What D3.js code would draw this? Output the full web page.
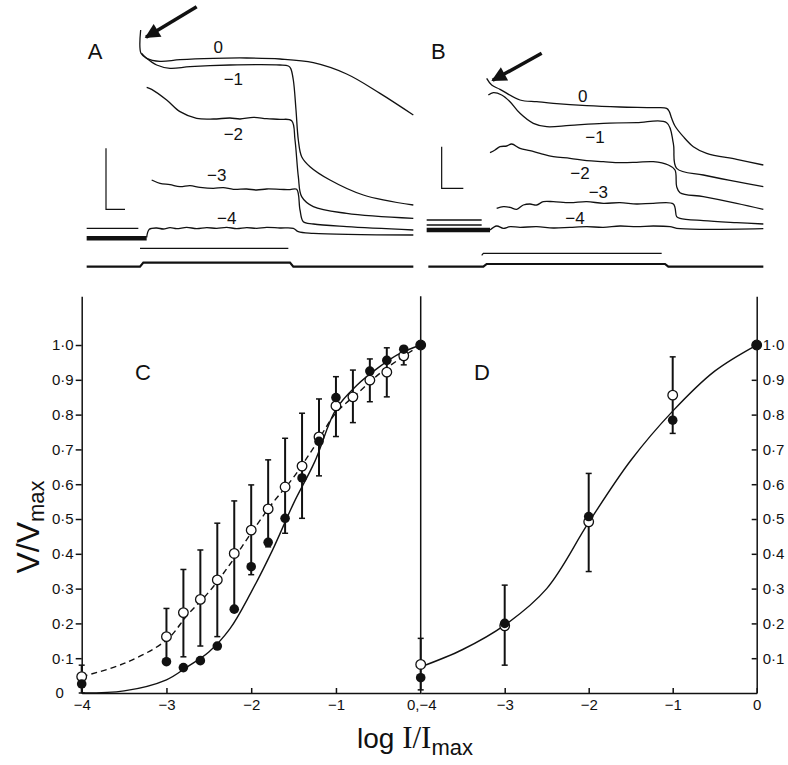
<!DOCTYPE html>
<html>
<head>
<meta charset="utf-8">
<script src="https://cdn.jsdelivr.net/npm/d3@7"></script>
<style>
  body { margin: 0; background: #fff; }
  text { font-family: "Liberation Sans", Arial, sans-serif; fill: #111; }
</style>
</head>
<body>
<script>

// ---- top records: [time, voltage] in arbitrary units ----
var traceA0 = [[18.2,75],[18.3,68],[20,66.5],[24,65.6],[30,66.1],[40,66.5],[50,66.6],[60,66.3],[70,65.2],[80,61.8],[90,56],[100,49.5]];
var traceA1 = [[18.5,68],[20,66.5],[23,64.5],[27,63.5],[33,64],[45,64.5],[60,64.5],[62.5,64.2],[63.2,63.5],[64,60],[64.8,51],[65.5,42],[66.5,37],[69,34],[75,30],[85,25.5],[100,22.5]];
var traceA2 = [[20,57.8],[21.5,57.2],[26,54],[30,50.5],[35,48.5],[40,48.3],[45,48.6],[48,48.3],[52,48.8],[56,48.4],[60,48.2],[63.5,47.8],[64.5,42],[65.5,31],[66.5,25],[70,22],[80,20],[100,18.5]];
var traceA3 = [[21.5,30],[24,29],[27,28.6],[30,28],[33,28.3],[36,27.8],[40,27.5],[43,27.7],[46,27.2],[50,27.3],[53,27],[56,27.3],[60,27.2],[63,27.1],[65,27.2],[66,21],[67,17.5],[70,16.8],[80,16],[100,15]];
var traceA4 = [[20,12.8],[20.8,15.2],[23,15.6],[25,15.3],[27,15.7],[29,15.4],[32,15.8],[35,15.4],[38,15.7],[41,15.5],[44,15.8],[47,15.4],[50,15.7],[53,15.5],[56,15.8],[60,15.6],[64,15.5],[65.5,14.5],[70,14],[100,13.5]];
var preA = [[[2,15.5],[17.5,15.5]]];
var preBandA = [[2,12.5],[20,12.5]];
var stimA = [[18,9.5],[62.5,9.5]];
var baseA = [[2,4],[18,4],[19,5.2],[63,5.2],[64,4],[100,4]];
var scaleBarA = [[7.8,39.5],[7.8,21.2],[13.5,21.2]];
var arrowA = [[35,82],[19.8,72.8]];
var labelsA = [["0",41.5,70],["\u22121",46,60.3],["\u22122",46,43.8],["\u22123",41,31.5],["\u22124",44,18.5]];

var traceB0 = [[20,60.5],[21.5,58.5],[24,57.2],[30,54],[35,53.5],[40,53],[50,52.3],[60,51.9],[70,51.7],[74,51.5],[74.8,50.5],[75.5,48.5],[76.5,46.2],[79,43],[82,40],[86,38],[95,36.2],[103,34.5]];
var traceB1 = [[20.5,55.5],[22,56.2],[24.5,55.5],[27,53.5],[30,50],[34,47],[38,46],[45,46.4],[55,47],[65,47.2],[74,47.2],[76,41],[77,33.5],[85,31.5],[95,29.5],[103,28]];
var traceB2 = [[21,38.2],[22.5,39],[24,40],[26,40.2],[27.5,40.8],[30,39.5],[33,38.8],[36,38],[40,37],[45,36.5],[50,35.8],[55,35.5],[60,35.2],[65,35.3],[70,35.5],[74.5,34.5],[76.5,33],[77,28],[78,26.2],[85,25],[95,23],[103,21.2]];
var traceB3 = [[23,21.5],[25,22],[27,21.8],[29,21.2],[31,22.5],[33,22.8],[35,22.5],[37,23.5],[40,23.5],[45,23.2],[50,23.5],[55,23],[60,23.2],[65,22.8],[70,23],[76,22.8],[77,19],[78,18.5],[85,17.8],[95,17.2],[103,16.8]];
var traceB4 = [[21,15],[23,16.2],[25,15.5],[27,16],[30,15.8],[35,16],[40,15.6],[45,15.8],[50,16],[55,15.8],[60,16.2],[65,16],[70,16.2],[75,16],[77,15.5],[85,15.2],[103,15.4]];
var preB = [[[2,18],[18.5,18]],[[2,16.5],[18.5,16.5]]];
var preBandB = [[2,15],[21,15]];
var stimB = [[18.5,7.4],[19,8],[72.5,8]];
var baseB = [[2.5,4],[19,4],[20,4.8],[73.5,4.8],[74.5,4],[103,4]];
var scaleBarB = [[6.5,40],[6.5,27.5],[13,27.5]];
var arrowB = [[36.5,68],[21.8,59.9]];
var labelsB = [["0",48.8,55.2],["\u22121",52.5,43],["\u22122",48,32.2],["\u22123",53.5,26.5],["\u22124",46.5,18.5]];

// ---- C: V/Vmax against log I/Imax ----
var cX      = [-4,-3,-2.8,-2.6,-2.4,-2.2,-2.0,-1.8,-1.6,-1.4,-1.2,-1.0,-0.8,-0.6,-0.4,-0.2,0];
var cOpen   = [0.047,0.162,0.231,0.269,0.325,0.401,0.468,0.529,0.592,0.652,0.736,0.825,0.851,0.899,0.922,0.969,1.0];
var cFilled = [0.026,0.09,0.073,0.093,0.135,0.241,0.363,0.433,0.502,0.618,0.723,0.849,null,0.925,0.956,0.988,1.0];
var cErrLo  = [0.0,0.09,0.104,0.135,0.162,0.239,0.34,0.42,0.459,0.502,0.624,0.737,0.777,0.837,0.851,0.943,null];
var cErrHi  = [0.08,0.243,0.355,0.411,0.488,0.552,0.598,0.670,0.732,0.804,0.845,0.909,0.928,0.960,0.992,0.985,null];
var fitX    = [-4,-3.5,-3,-2.75,-2.5,-2.25,-2,-1.75,-1.5,-1.25,-1,-0.75,-0.5,-0.25,0];
var cFitFilled = [0.0,0.006,0.038,0.076,0.118,0.185,0.29,0.41,0.545,0.665,0.815,0.885,0.935,0.975,1.0];
var cFitOpen   = [0.047,0.085,0.152,0.225,0.29,0.37,0.46,0.545,0.62,0.71,0.805,0.86,0.915,0.96,1.0];

// ---- D ----
var dX      = [-4,-3,-2,-1,0];
var dOpen   = [0.082,0.193,0.492,0.856,1.0];
var dFilled = [0.044,0.2,0.507,0.784,1.0];
var dErrLo  = [0.009,0.08,0.349,0.746,null];
var dErrHi  = [0.157,0.31,0.631,0.966,null];
var dFitX   = [-4,-3.5,-3,-2.5,-2,-1.5,-1,-0.5,0];
var dFit    = [0.075,0.125,0.195,0.30,0.49,0.668,0.81,0.925,1.0];

var yTicks = [0.1,0.2,0.3,0.4,0.5,0.6,0.7,0.8,0.9,1.0];
var xTicksC = [-4,-3,-2,-1];
var xTicksD = [-3,-2,-1,0];

var svg = d3.select("body").append("svg").attr("width", 788).attr("height", 765);

svg.append("defs").append("marker")
  .attr("id", "head")
  .attr("viewBox", "0 0 10 10")
  .attr("refX", 9).attr("refY", 5)
  .attr("markerUnits", "userSpaceOnUse")
  .attr("markerWidth", 22).attr("markerHeight", 15)
  .attr("orient", "auto")
  .append("path").attr("d", "M0,0 L10,5 L0,10 z").style("fill", "#111");

var yTop = d3.scaleLinear().domain([0, 84]).range([280, 0]);
var xA = d3.scaleLinear().domain([0, 102]).range([80, 420]);
var xB = d3.scaleLinear().domain([0, 110.4]).range([420, 788]);

function recordPanel(x, traces, pres, band, stim, base, bar, arrow, labels, name) {
  var g = svg.append("g");
  var curved = d3.line().x(function(d){ return x(d[0]); }).y(function(d){ return yTop(d[1]); })
    .curve(d3.curveCatmullRom.alpha(0.5));
  var straight = d3.line().x(function(d){ return x(d[0]); }).y(function(d){ return yTop(d[1]); });

  traces.forEach(function(t){
    g.append("path").attr("d", curved(t))
      .style("fill", "none").style("stroke", "#111").style("stroke-width", 1.3);
  });
  pres.forEach(function(p){
    g.append("path").attr("d", straight(p))
      .style("fill", "none").style("stroke", "#111").style("stroke-width", 1.3);
  });
  g.append("path").attr("d", straight(band))
    .style("fill", "none").style("stroke", "#111").style("stroke-width", 4.5);
  g.append("path").attr("d", straight(stim))
    .style("fill", "none").style("stroke", "#111").style("stroke-width", 1.2);
  g.append("path").attr("d", straight(base))
    .style("fill", "none").style("stroke", "#111").style("stroke-width", 2.2);
  g.append("path").attr("d", straight(bar))
    .style("fill", "none").style("stroke", "#111").style("stroke-width", 1.2);
  g.append("path").attr("d", straight(arrow))
    .attr("marker-end", "url(#head)")
    .style("fill", "none").style("stroke", "#111").style("stroke-width", 3.5);

  g.selectAll("text.lab").data(labels).enter().append("text")
    .attr("class", "lab")
    .attr("x", function(d){ return x(d[1]); })
    .attr("y", function(d){ return yTop(d[2]); })
    .attr("dy", "0.35em")
    .attr("text-anchor", "middle")
    .style("font-size", "17px")
    .text(function(d){ return d[0]; });
  g.append("text").attr("x", x(name[1])).attr("y", yTop(name[2])).attr("dy", "0.35em")
    .attr("text-anchor", "middle").style("font-size", "22px").text(name[0]);
}

recordPanel(xA, [traceA0, traceA1, traceA2, traceA3, traceA4], preA, preBandA, stimA, baseA,
  scaleBarA, arrowA, labelsA, ["A", 4.5, 68.5]);
recordPanel(xB, [traceB0, traceB1, traceB2, traceB3, traceB4], preB, preBandB, stimB, baseB,
  scaleBarB, arrowB, labelsB, ["B", 5.5, 68.5]);

// ---- bottom graphs ----
var y = d3.scaleLinear().domain([0, 1.14]).range([693, 296.3]);
var xC = d3.scaleLinear().domain([-4, 0]).range([81.7, 420.7]);
var xD = d3.scaleLinear().domain([-4, 0]).range([420.7, 756.7]);
var dot = function(d){ return d.toFixed(1).replace(".", "\u00B7"); };
var whole = d3.format("d");

var yAxisC = svg.append("g").attr("transform", "translate(" + xC(-4) + ",0)")
  .call(d3.axisLeft(y).tickValues(yTicks).tickFormat(dot).tickSizeInner(6).tickSizeOuter(0).tickPadding(2));
var yAxisD = svg.append("g").attr("transform", "translate(" + xD(0) + ",0)")
  .call(d3.axisRight(y).tickValues(yTicks).tickFormat(dot).tickSizeInner(-5).tickSizeOuter(0).tickPadding(6));
svg.append("line").attr("x1", xD(-4)).attr("x2", xD(-4)).attr("y1", y(1.14)).attr("y2", y(0))
  .style("stroke", "#111").style("stroke-width", 1.5);

var xAxisC = svg.append("g").attr("transform", "translate(0," + y(0) + ")")
  .call(d3.axisBottom(xC).tickValues(xTicksC).tickFormat(whole).tickSizeInner(-5).tickSizeOuter(0).tickPadding(6));
var xAxisD = svg.append("g").attr("transform", "translate(0," + y(0) + ")")
  .call(d3.axisBottom(xD).tickValues(xTicksD).tickFormat(whole).tickSizeInner(-5).tickSizeOuter(0).tickPadding(6));

[yAxisC, yAxisD, xAxisC, xAxisD].forEach(function(a){
  a.selectAll("path, line").style("stroke", "#111").style("stroke-width", 1.5);
  a.selectAll("text").style("font-size", "15px").style("fill", "#111")
    .style("font-family", "'Liberation Sans', Arial, sans-serif");
});

svg.append("text").attr("x", xC(-4) - 22).attr("y", y(0)).attr("dy", "0.35em")
  .attr("text-anchor", "middle").style("font-size", "15px").text("0");
svg.append("text").attr("x", xD(-4) + 1).attr("y", y(0) + 6).attr("dy", "0.71em")
  .attr("text-anchor", "middle").style("font-size", "15px").text("0,\u22124");

function rows(xs, ys) {
  return xs.map(function(v, i){ return [v, ys[i]]; }).filter(function(d){ return d[1] != null; });
}
function errRows(xs, lo, hi) {
  return xs.map(function(v, i){ return [v, lo[i], hi[i]]; }).filter(function(d){ return d[1] != null; });
}

function graph(x, errs, fits, open, filled) {
  var g = svg.append("g");
  var line = d3.line().x(function(d){ return x(d[0]); }).y(function(d){ return y(d[1]); })
    .curve(d3.curveCatmullRom.alpha(0.5));

  fits.forEach(function(f){
    g.append("path").attr("d", line(f.data))
      .style("fill", "none").style("stroke", "#111").style("stroke-width", 1.4)
      .style("stroke-dasharray", f.dashed ? "6,4" : null);
  });

  var eb = g.selectAll("g.err").data(errs).enter().append("g").attr("class", "err");
  eb.append("line")
    .attr("x1", function(d){ return x(d[0]); }).attr("x2", function(d){ return x(d[0]); })
    .attr("y1", function(d){ return y(d[1]); }).attr("y2", function(d){ return y(d[2]); })
    .style("stroke", "#111").style("stroke-width", 2);
  [1, 2].forEach(function(k){
    eb.append("line")
      .attr("x1", function(d){ return x(d[0]) - 3; }).attr("x2", function(d){ return x(d[0]) + 3; })
      .attr("y1", function(d){ return y(d[k]); }).attr("y2", function(d){ return y(d[k]); })
      .style("stroke", "#111").style("stroke-width", 1.5);
  });

  g.selectAll("circle.open").data(open).enter().append("circle").attr("class", "open")
    .attr("cx", function(d){ return x(d[0]); }).attr("cy", function(d){ return y(d[1]); })
    .attr("r", 4.8).style("fill", "#fff").style("stroke", "#111").style("stroke-width", 1.3);
  g.selectAll("circle.filled").data(filled).enter().append("circle").attr("class", "filled")
    .attr("cx", function(d){ return x(d[0]); }).attr("cy", function(d){ return y(d[1]); })
    .attr("r", 4.8).style("fill", "#111");
}

graph(xC, errRows(cX, cErrLo, cErrHi),
  [{data: rows(fitX, cFitOpen), dashed: true}, {data: rows(fitX, cFitFilled), dashed: false}],
  rows(cX, cOpen), rows(cX, cFilled));
graph(xD, errRows(dX, dErrLo, dErrHi),
  [{data: rows(dFitX, dFit), dashed: false}],
  rows(dX, dOpen), rows(dX, dFilled));

svg.append("text").attr("x", 143).attr("y", 372).attr("dy", "0.35em")
  .attr("text-anchor", "middle").style("font-size", "22px").text("C");
svg.append("text").attr("x", 482).attr("y", 372).attr("dy", "0.35em")
  .attr("text-anchor", "middle").style("font-size", "22px").text("D");

// axis titles
var yt = svg.append("text").attr("transform", "translate(39,527) rotate(-90)")
  .attr("text-anchor", "middle").style("font-size", "32px");
yt.append("tspan").text("V/V");
yt.append("tspan").attr("dy", 5).style("font-size", "22px").text("max");

var xt = svg.append("text").attr("x", 357).attr("y", 748).style("font-size", "28px");
xt.append("tspan").text("log ");
xt.append("tspan").style("font-family", "'Liberation Serif', serif").style("font-size", "31px").text("I/I");
xt.append("tspan").attr("dy", 7).style("font-size", "22px").text("max");

</script>
</body>
</html>
